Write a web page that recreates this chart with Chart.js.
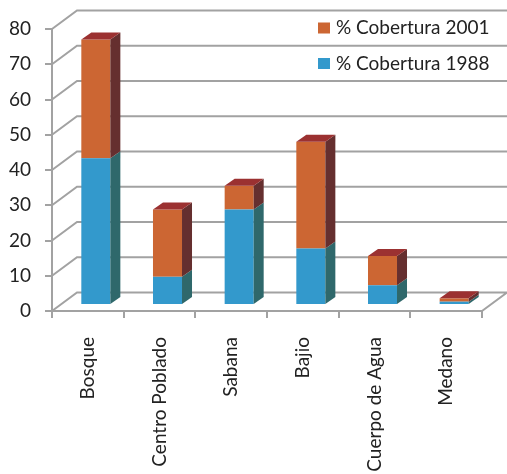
<!DOCTYPE html>
<html>
<head>
<meta charset="utf-8">
<script src="https://cdn.jsdelivr.net/npm/chart.js@4/dist/chart.umd.min.js"></script>
<style>
  html, body { margin: 0; padding: 0; background: #ffffff; }
  #wrap { width: 507px; height: 474px; }
</style>
</head>
<body>
<div id="wrap"><canvas id="chart" width="507" height="474"></canvas></div>
<script>
// Land cover classes and their share of the area (%) in each year
const categories = ['Bosque', 'Centro Poblado', 'Sabana', 'Bajio', 'Cuerpo de Agua', 'Medano'];
const cobertura1988 = [41.6, 8.0, 27.1, 16.0, 5.6, 0.95];
const cobertura2001 = [33.7, 19.1, 6.7, 30.3, 8.3, 0.95];
const seriesNames = ['% Cobertura 1988', '% Cobertura 2001'];
const yAxisTicks = [0, 10, 20, 30, 40, 50, 60, 70, 80];

// Look of the pseudo-3D box and columns
const FONT = '19px Lato';
const TEXT = '#222222';
const GRID = '#a2a2a2';
const WALL = { dx: 25, dy: -18.5 };      // depth of the back wall
const BAR_SHIFT = { dx: 8, dy: -6 };     // front face of the columns inside the box
const BAR_DEPTH = { dx: 10, dy: -7 };    // thickness of each column
const FRONT = ['#3399cc', '#cc6633'];
const SIDE = ['#2f686b', '#652f2f'];
const TOP = ['#2c7fa8', '#9b3131'];

const box3d = {
  id: 'box3d',
  beforeDatasetsDraw(chart) {
    const { ctx, chartArea: a, scales: { y } } = chart;
    ctx.save();
    ctx.strokeStyle = GRID;
    ctx.lineWidth = 2;
    ctx.beginPath();
    y.ticks.forEach(t => {
      const py = y.getPixelForValue(t.value);
      ctx.moveTo(a.left, py);
      ctx.lineTo(a.left + WALL.dx, py + WALL.dy);
      ctx.lineTo(a.right + WALL.dx, py + WALL.dy);
    });
    const y0 = y.getPixelForValue(0);
    ctx.moveTo(a.right, y0);
    ctx.lineTo(a.right + WALL.dx, y0 + WALL.dy);
    ctx.stroke();
    ctx.restore();
    // columns sit a little way back inside the box
    ctx.save();
    ctx.translate(BAR_SHIFT.dx, BAR_SHIFT.dy);
  },
  afterDatasetsDraw(chart) {
    const { ctx } = chart;
    ctx.restore();
    const n = chart.data.datasets.length;
    const metas = chart.data.datasets.map((d, i) => chart.getDatasetMeta(i));
    categories.forEach((c, j) => {
      metas.forEach((meta, i) => {
        const el = meta.data[j];
        const p = el.getProps(['x', 'y', 'base', 'width'], true);
        const right = p.x + p.width / 2 + BAR_SHIFT.dx;
        const left = p.x - p.width / 2 + BAR_SHIFT.dx;
        const top = Math.min(p.y, p.base) + BAR_SHIFT.dy;
        const bottom = Math.max(p.y, p.base) + BAR_SHIFT.dy;
        ctx.fillStyle = SIDE[i];
        ctx.beginPath();
        ctx.moveTo(right, top);
        ctx.lineTo(right + BAR_DEPTH.dx, top + BAR_DEPTH.dy);
        ctx.lineTo(right + BAR_DEPTH.dx, bottom + BAR_DEPTH.dy);
        ctx.lineTo(right, bottom);
        ctx.closePath();
        ctx.fill();
        if (i === n - 1) {
          ctx.fillStyle = TOP[i];
          ctx.beginPath();
          ctx.moveTo(left, top);
          ctx.lineTo(right, top);
          ctx.lineTo(right + BAR_DEPTH.dx, top + BAR_DEPTH.dy);
          ctx.lineTo(left + BAR_DEPTH.dx, top + BAR_DEPTH.dy);
          ctx.closePath();
          ctx.fill();
        }
      });
    });
  },
  afterDraw(chart) {
    // legend, latest year first
    const { ctx } = chart;
    ctx.save();
    ctx.font = FONT;
    ctx.textBaseline = 'middle';
    ctx.textAlign = 'left';
    const items = chart.data.datasets.map((d, i) => ({ label: d.label, color: FRONT[i] })).reverse();
    items.forEach((it, k) => {
      const cy = 28 + k * 35.5;
      ctx.fillStyle = it.color;
      ctx.fillRect(318, cy - 5.5, 12, 11);
      ctx.fillStyle = TEXT;
      ctx.fillText(it.label, 336, cy);
    });
    ctx.restore();
  }
};

new Chart(document.getElementById('chart'), {
  type: 'bar',
  data: {
    labels: categories,
    datasets: [
      { label: seriesNames[0], data: cobertura1988, backgroundColor: FRONT[0] },
      { label: seriesNames[1], data: cobertura2001, backgroundColor: FRONT[1] }
    ]
  },
  options: {
    responsive: false,
    animation: false,
    devicePixelRatio: 1,
    layout: { padding: { top: 29, right: 25, left: 0, bottom: 0 } },
    datasets: { bar: { categoryPercentage: 1, barPercentage: 0.405, borderWidth: 0, clip: false } },
    plugins: { legend: { display: false }, tooltip: { enabled: false } },
    scales: {
      x: {
        stacked: true,
        afterFit(s) { s.height = 163; },
        grid: { drawOnChartArea: false, drawTicks: true, tickLength: 7, offset: true, color: GRID, lineWidth: 2 },
        border: { display: true, color: GRID, width: 2 },
        ticks: { autoSkip: false, minRotation: 90, maxRotation: 90, padding: 19, color: TEXT, font: { family: 'Lato', size: 19 } }
      },
      y: {
        stacked: true,
        min: 0,
        max: 80,
        afterFit(s) { s.width = 52; },
        afterBuildTicks(s) { s.ticks = yAxisTicks.map(v => ({ value: v })); },
        grid: { drawOnChartArea: false, drawTicks: true, tickLength: 7, color: GRID, lineWidth: 2 },
        border: { display: true, color: GRID, width: 2 },
        ticks: { padding: 14, color: TEXT, font: { family: 'Lato', size: 19 } }
      }
    }
  },
  plugins: [box3d]
});
</script>
</body>
</html>
